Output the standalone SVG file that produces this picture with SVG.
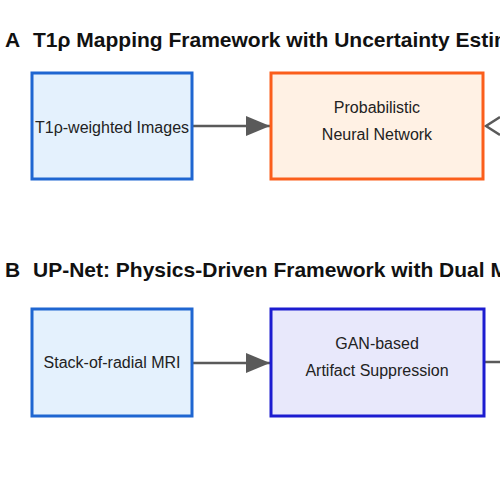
<svg xmlns="http://www.w3.org/2000/svg" width="500" height="500" viewBox="0 0 500 500">
<defs>
<style>
.title{font-family:"Liberation Sans",Arial,sans-serif;font-size:21px;font-weight:bold;fill:#111}
.lbl{font-family:"Liberation Sans",Arial,sans-serif;font-size:16px;fill:#222;text-anchor:middle}
.conn{stroke:#5a5a5a;stroke-width:2.5;fill:none}
.blue{fill:#e4f1fd;stroke:#1f66d1;stroke-width:3}
.orange{fill:#fff1e4;stroke:#fb5e1b;stroke-width:3}
.indigo{fill:#e8e8fb;stroke:#1c1cd0;stroke-width:3}
</style>
<marker id="arr" viewBox="0 0 24 20" refX="24" refY="10" markerWidth="24" markerHeight="20" markerUnits="userSpaceOnUse" orient="auto">
<path d="M0,0 L24,10 L0,20 Z" fill="#5a5a5a"/>
</marker>
</defs>
<rect width="500" height="500" fill="#ffffff"/>
<text class="title" x="5" y="47">A</text>
<text class="title" x="33" y="47">T1ρ Mapping Framework with Uncertainty Estimation</text>
<text class="title" x="5" y="277">B</text>
<text class="title" x="33" y="277">UP-Net: Physics-Driven Framework with Dual Modules</text>
<g id="connectors">
<line class="conn" x1="192" y1="126" x2="270" y2="126" marker-end="url(#arr)"/>
<polyline class="conn" points="500,117 486,126 500,135"/>
<line class="conn" x1="192" y1="363" x2="270" y2="363" marker-end="url(#arr)"/>
<line class="conn" x1="484" y1="362" x2="500" y2="362"/>
</g>
<g id="t1rho-images">
<rect class="blue" x="32" y="73" width="160" height="106"/>
<text class="lbl" x="112" y="133">T1ρ-weighted Images</text>
</g>
<g id="prob-nn">
<rect class="orange" x="271" y="73" width="212" height="106"/>
<text class="lbl" x="377" y="113">Probabilistic</text>
<text class="lbl" x="377" y="140">Neural Network</text>
</g>
<g id="stack-radial">
<rect class="blue" x="32" y="309" width="160" height="107"/>
<text class="lbl" x="112" y="368">Stack-of-radial MRI</text>
</g>
<g id="gan">
<rect class="indigo" x="271" y="309" width="213" height="107"/>
<text class="lbl" x="377" y="349">GAN-based</text>
<text class="lbl" x="377" y="376">Artifact Suppression</text>
</g>
</svg>
